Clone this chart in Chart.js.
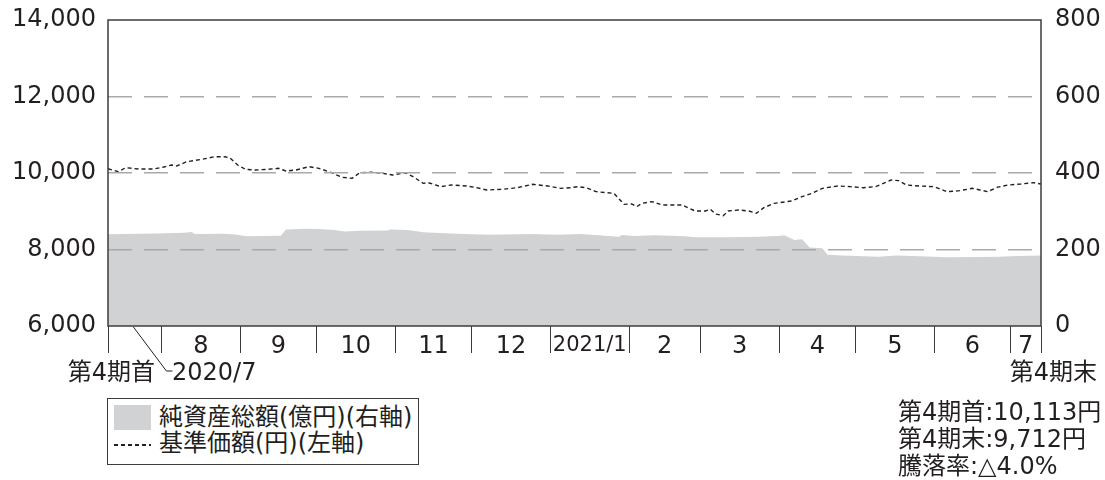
<!DOCTYPE html>
<html lang="ja">
<head>
<meta charset="utf-8">
<title>基準価額・純資産総額の推移</title>
<script src="https://cdn.jsdelivr.net/npm/chart.js@4.4.1/dist/chart.umd.min.js"></script>
<style>
  html, body { margin: 0; padding: 0; background: #fff; }
  body {
    position: relative; width: 1105px; height: 480px; overflow: hidden;
    font-family: "DejaVu Sans", "Noto Sans CJK JP", sans-serif; color: #231f20;
  }
  #chartWrap { position: absolute; left: 0; top: 0; width: 1105px; height: 480px; }
  .note { position: absolute; font-size: 24px; line-height: 27px; white-space: nowrap; }
  #legend {
    position: absolute; left: 107px; top: 398px; width: 312px; height: 67px;
    box-sizing: border-box; border: 1.5px solid #3c3c3c; background: #fff;
  }
  #legend .swatch { position: absolute; left: 6px; top: 6px; width: 37px; height: 25px; background: #d1d2d4; }
  #legend .dash {
    position: absolute; left: 6px; top: 45px; width: 37px; height: 1.5px;
    background: repeating-linear-gradient(to right, #231f20 0 4px, transparent 4px 7px);
  }
  #legend .txt { position: absolute; left: 51px; font-size: 24px; line-height: 27px; white-space: nowrap; }
</style>
</head>
<body>
<div id="chartWrap"><canvas id="navChart"></canvas></div>

<div class="note" style="right:950px; top:359px;">第4期首</div>
<div class="note" style="left:172px; top:359px;">2020/7</div>
<div class="note" style="right:8px; top:359px;">第4期末</div>
<div class="note" style="left:898px; top:399px;">第4期首:10,113円<br>第4期末:9,712円<br>騰落率:△4.0%</div>

<div id="legend">
  <span class="swatch"></span><span class="txt" style="top:5px;">純資産総額(億円)(右軸)</span>
  <span class="dash"></span><span class="txt" style="top:31px;">基準価額(円)(左軸)</span>
</div>

<script>
// 第4期 基準価額（左軸）と純資産総額（右軸）
// x は 2020/7/1 からの経過日数

const FONT_FAMILY = '"DejaVu Sans", "Noto Sans CJK JP", sans-serif';
const TEXT_COLOR = '#231f20';

// 月の区切り（経過日数）と月ラベル
const monthEdges = [10, 31, 62, 92, 123, 153, 184, 215, 243, 274, 304, 335, 365, 377];
const monthLabels = ['', '8', '9', '10', '11', '12', '2021/1', '2', '3', '4', '5', '6', '7'];

// 左軸・右軸の目盛
const navTicks = [6000, 8000, 10000, 12000, 14000];
const assetTicks = [0, 200, 400, 600, 800];

// 基準価額（円）
const navDays = [10, 14, 17, 22, 28, 32, 35, 37, 41, 47, 52, 56, 58, 61, 64, 68, 73, 77, 80, 84,
  89, 93, 98, 102, 106, 109, 114, 118, 122, 127, 130, 134, 136, 141, 145, 151, 155, 159, 165, 171,
  177, 183, 188, 192, 195, 198, 202, 209, 213, 216, 218, 220, 224, 228, 236, 238, 241, 245, 247, 249,
  252, 254, 258, 262, 265, 268, 272, 279, 283, 287, 291, 297, 302, 307, 312, 315, 318, 321, 324, 329,
  335, 340, 345, 350, 353, 356, 360, 364, 369, 374, 377];
const navValues = [10113, 10034, 10139, 10105, 10105, 10157, 10209, 10183, 10296, 10358, 10426, 10426, 10392, 10209, 10097, 10078, 10097, 10122, 10052, 10078,
  10165, 10122, 10008, 9887, 9861, 10008, 10018, 9991, 9948, 10008, 9904, 9730, 9747, 9643, 9686, 9660, 9616, 9556, 9573, 9616,
  9704, 9660, 9599, 9616, 9643, 9616, 9512, 9469, 9181, 9190, 9120, 9207, 9251, 9163, 9163, 9093, 9007, 9007, 9051, 8928,
  8884, 9007, 9033, 9007, 8946, 9093, 9207, 9268, 9381, 9469, 9599, 9660, 9643, 9616, 9643, 9730, 9817, 9800, 9686, 9660,
  9643, 9512, 9538, 9599, 9556, 9512, 9630, 9686, 9712, 9747, 9712];

// 純資産総額（億円）
const assetDays = [10, 16, 29, 40, 43, 44, 55, 59, 65, 71, 78, 80, 88, 93, 99, 103, 109, 120, 121, 128,
  134, 147, 160, 176, 187, 196, 211, 212, 217, 225, 237, 241, 253, 266, 275, 276, 280, 283, 286, 291,
  293, 299, 313, 320, 332, 340, 352, 360, 368, 377];
const assetValues = [240, 240.5, 242, 244, 246, 240.5, 241, 240, 234.5, 235, 236, 252, 254.5, 253.5, 251, 247, 249, 250, 252.5, 251,
  245, 241.5, 238.5, 240.5, 238.5, 240.5, 233.5, 238, 235.5, 237, 234.5, 232, 232, 233.5, 236, 237, 225, 226.5, 205, 203,
  186, 184, 181, 184, 182, 179.5, 180.5, 181, 183, 184];

// 起点ラベル「2020/7」への引き出し線の位置（経過日数）
const leaderDay = 20;

function toPoints(days, values) {
  return days.map((d, i) => ({ x: d, y: values[i] }));
}

// 月の区切り線 + 各月の中央にラベル
function buildMonthTicks() {
  const ticks = monthEdges.map((v) => ({ value: v, text: '', edge: true }));
  monthLabels.forEach((lab, i) => {
    ticks.push({ value: (monthEdges[i] + monthEdges[i + 1]) / 2, text: lab, edge: false });
  });
  return ticks.sort((a, b) => a.value - b.value);
}

// 縦軸の幅を固定し、ラベルのはみ出し分の余白は付けない
function fixYAxis(width) {
  return (scale) => {
    scale.width = width;
    scale.paddingTop = 0;
    scale.paddingBottom = 0;
  };
}

// 外枠
const framePlugin = {
  id: 'frame',
  afterDraw(chart) {
    const { ctx, chartArea: a } = chart;
    ctx.save();
    ctx.strokeStyle = '#3c3c3c';
    ctx.lineWidth = 1.5;
    ctx.strokeRect(a.left, a.top, a.right - a.left, a.bottom - a.top);
    ctx.restore();
  }
};

// 「2020/7」への引き出し線
const leaderPlugin = {
  id: 'leader',
  afterDraw(chart) {
    const { ctx, chartArea, scales } = chart;
    const x0 = scales.x.getPixelForValue(leaderDay);
    ctx.save();
    ctx.strokeStyle = '#231f20';
    ctx.lineWidth = 1;
    ctx.beginPath();
    ctx.moveTo(x0, chartArea.bottom + 1);
    ctx.lineTo(x0 + 33, chartArea.bottom + 45);
    ctx.lineTo(x0 + 39, chartArea.bottom + 45);
    ctx.stroke();
    ctx.restore();
  }
};

function renderChart() {
  const canvas = document.getElementById('navChart');

  new Chart(canvas, {
    type: 'line',
    data: {
      datasets: [
        {
          label: '基準価額(円)(左軸)',
          data: toPoints(navDays, navValues),
          yAxisID: 'y',
          borderColor: '#231f20',
          borderWidth: 1.4,
          borderDash: [4, 3],
          pointRadius: 0,
          fill: false,
          tension: 0,
          order: 0
        },
        {
          label: '純資産総額(億円)(右軸)',
          data: toPoints(assetDays, assetValues),
          yAxisID: 'y1',
          backgroundColor: '#d1d2d4',
          borderColor: '#d1d2d4',
          borderWidth: 0,
          pointRadius: 0,
          fill: 'origin',
          tension: 0,
          order: 1
        }
      ]
    },
    options: {
      responsive: true,
      maintainAspectRatio: false,
      animation: false,
      devicePixelRatio: 1,
      layout: { padding: { top: 20, left: 0, right: 0, bottom: 0 } },
      plugins: {
        legend: { display: false },
        tooltip: { enabled: false }
      },
      scales: {
        x: {
          type: 'linear',
          min: monthEdges[0],
          max: monthEdges[monthEdges.length - 1],
          afterBuildTicks: (scale) => { scale.ticks = buildMonthTicks(); },
          afterFit: (scale) => {
            scale.height = 154;
            scale.paddingLeft = 0;
            scale.paddingRight = 0;
          },
          grid: {
            drawOnChartArea: false,
            drawTicks: true,
            tickLength: 27,
            tickWidth: 1,
            tickColor: (ctx) => (ctx.tick && ctx.tick.edge ? '#3c3c3c' : 'rgba(0,0,0,0)')
          },
          border: { display: false },
          ticks: {
            autoSkip: false,
            maxRotation: 0,
            minRotation: 0,
            padding: -18,
            color: TEXT_COLOR,
            font: (ctx) => ({
              family: FONT_FAMILY,
              size: ctx.tick && ctx.tick.text === '2021/1' ? 21 : 24,
              lineHeight: 1
            }),
            callback: (value, index, ticks) => ticks[index].text
          }
        },
        y: {
          position: 'left',
          min: navTicks[0],
          max: navTicks[navTicks.length - 1],
          afterBuildTicks: (scale) => { scale.ticks = navTicks.map((v) => ({ value: v })); },
          afterFit: fixYAxis(108),
          grid: { display: false, drawTicks: false },
          border: { display: false },
          ticks: {
            padding: 12,
            color: TEXT_COLOR,
            font: { family: FONT_FAMILY, size: 24 },
            callback: (v) => Number(v).toLocaleString('en-US')
          }
        },
        y1: {
          position: 'right',
          min: assetTicks[0],
          max: assetTicks[assetTicks.length - 1],
          afterBuildTicks: (scale) => { scale.ticks = assetTicks.map((v) => ({ value: v })); },
          afterFit: fixYAxis(64),
          grid: {
            drawTicks: false,
            drawOnChartArea: true,
            z: 1,
            lineWidth: 1.5,
            color: (ctx) => {
              const v = ctx.tick ? ctx.tick.value : 0;
              return v === assetTicks[0] || v === assetTicks[assetTicks.length - 1] ? 'rgba(0,0,0,0)' : '#a7a9ac';
            }
          },
          border: { display: false, dash: [24, 12] },
          ticks: {
            padding: 14,
            color: TEXT_COLOR,
            font: { family: FONT_FAMILY, size: 24 },
            callback: (v) => String(v)
          }
        }
      }
    },
    plugins: [framePlugin, leaderPlugin]
  });
}

document.addEventListener('DOMContentLoaded', renderChart);
</script>
</body>
</html>
